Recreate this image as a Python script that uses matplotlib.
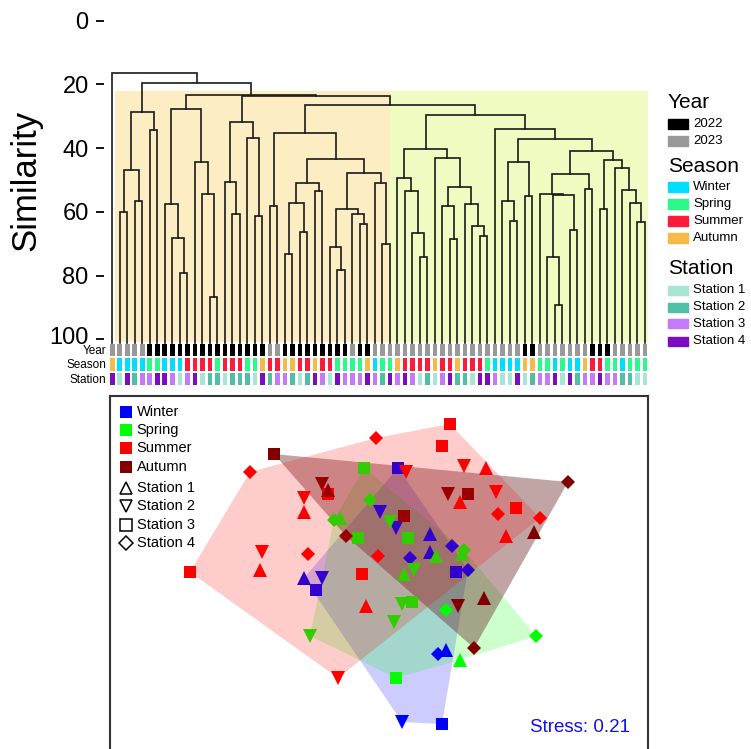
import numpy as np
import matplotlib.pyplot as plt
from matplotlib.patches import Rectangle, Polygon
from matplotlib.transforms import ScaledTranslation

plt.rcParams['font.family'] = ['Liberation Sans', 'DejaVu Sans']

W, H = 751, 749

# ---- cluster tree: (similarity, left, right), ints are leaf numbers ----
tree = (16.5, 1,
        (19.5,
         (28.6, (47.0, (60.1, 2, 3), (56.7, 4, 5)), (34.4, 6, 7)),
         (23.4,
          (27.6, (57.5, 8, (68.2, 9, (79.3, 10, 11))),
                 (44.2, 12, (54.3, 13, (86.7, 14, 15)))),
          (23.7,
           (31.8, (50.7, 16, (60.6, 17, 18)), (36.7, 19, (61.4, 20, 21))),
           (26.5,
            (35.2, (58.2, 22, 23),
             (43.5,
              (51.0, (57.3, (73.1, 24, 25), (66.2, 26, 27)), (53.5, 28, 29)),
              (47.7,
               (59.1, (71.1, 30, (78.3, 31, 32)), (60.8, 33, (63.7, 34, 35))),
               (51.0, 36, (70.1, 37, 38))))),
            (29.7,
             (40.2,
              (49.4, 39, (53.5, 40, (66.7, 41, (74.3, 42, 43)))),
              (43.1, 44, (52.1, (58.3, 45, (68.5, 46, 47)),
                          (57.5, 48, (64.5, 49, (67.5, 50, 51)))))),
             (33.9, 52,
              (37.0,
               (44.2, (56.7, 53, (63.0, 54, 55)), (55.1, 56, 57)),
               (40.9,
                (48.0,
                 (54.3, 58, (54.8, (74.3, 59, (89.2, 60, 61)), (65.7, 62, 63))),
                 (52.7, 64, 65)),
                (43.8, (59.2, 66, 67),
                 (46.2, 68, (53.2, 69, (57.3, 70, (63.3, 71, 72))))))))))))))

# leaf annotations in dendrogram order
year = [2023, 2023, 2023, 2023, 2023, 2022, 2022, 2022, 2022, 2022, 2022, 2022,
        2022, 2022, 2022, 2022, 2022, 2022, 2022, 2022, 2022, 2023, 2023, 2022,
        2022, 2022, 2022, 2022, 2022, 2022, 2022, 2022, 2023, 2022, 2022, 2023,
        2023, 2023, 2023, 2023, 2023, 2023, 2023, 2023, 2023, 2023, 2023, 2023,
        2023, 2023, 2023, 2023, 2023, 2023, 2023, 2022, 2022, 2023, 2023, 2023,
        2023, 2023, 2023, 2023, 2022, 2022, 2022, 2023, 2023, 2023, 2023, 2023]
season = ['Autumn', 'Winter', 'Winter', 'Winter', 'Winter', 'Spring', 'Spring', 'Winter',
          'Winter', 'Winter', 'Summer', 'Summer', 'Summer', 'Summer', 'Spring', 'Summer',
          'Summer', 'Summer', 'Spring', 'Spring', 'Autumn', 'Summer', 'Summer', 'Autumn',
          'Autumn', 'Summer', 'Summer', 'Autumn', 'Summer', 'Summer', 'Spring', 'Spring',
          'Spring', 'Spring', 'Autumn', 'Winter', 'Spring', 'Spring', 'Autumn', 'Summer',
          'Summer', 'Summer', 'Summer', 'Autumn', 'Summer', 'Summer', 'Autumn', 'Summer',
          'Summer', 'Summer', 'Spring', 'Winter', 'Winter', 'Winter', 'Winter', 'Autumn',
          'Autumn', 'Spring', 'Spring', 'Winter', 'Spring', 'Winter', 'Winter', 'Autumn',
          'Summer', 'Summer', 'Spring', 'Spring', 'Winter', 'Spring', 'Spring', 'Spring']
station = [4, 1, 4, 2, 3, 3, 4, 4, 3, 1, 3, 4, 1, 2, 2, 1, 2, 2, 2, 1, 4, 2, 3, 3,
           2, 1, 2, 4, 3, 1, 4, 3, 3, 3, 4, 3, 2, 4, 3, 4, 3, 1, 2, 1, 3, 4, 2, 2,
           1, 4, 4, 3, 1, 1, 4, 1, 2, 3, 3, 4, 1, 4, 2, 3, 3, 4, 3, 3, 2, 2, 1, 1]

year_col = {2022: '#000000', 2023: '#999999'}
season_col = {'Winter': '#00DDFF', 'Spring': '#2BF98C', 'Summer': '#FF1A3A', 'Autumn': '#F6BA48'}
station_col = {1: '#A9E5D6', 2: '#4FBFA6', 3: '#C57AFC', 4: '#7B0CC2'}

# ---- NMDS ordination ----
nmds_x = [0.09, 0.00, 0.08, 0.25, 0.25, 0.15, -0.38, -0.29, -0.32, 0.36, 0.38, 0.44, 0.29, 0.33, 0.31, 0.11,
          -0.08, -0.05, -0.23, -0.20, 0.05, -0.11, 0.14, 0.42, 0.41, 0.28, 0.12, 0.17, 0.11, 0.16, 0.07, -0.35,
          0.08, 0.33, 0.78, 0.40,
          -0.02, -0.65, 0.13, -0.26, -0.38, -0.38, -0.59, -0.60, -0.36, -0.01, -0.95, -0.09, -0.07, -0.21, 0.35,
          0.31, 0.42, 0.53, 0.40, 0.58, 0.68, 0.59, 0.80, 0.63,
          -0.53, -0.29, -0.26, 0.12, -0.17, 0.94, 0.34, 0.44, 0.77, 0.39, 0.52, 0.47]
nmds_y = [0.46, 0.24, 0.16, 0.13, 0.04, 0.01, -0.09, -0.09, -0.15, 0.07, -0.06, -0.05, -0.47, -0.45, -0.82, -0.81,
          0.46, 0.30, 0.20, 0.21, 0.19, 0.11, 0.11, 0.05, 0.03, 0.02, -0.07, -0.05, -0.22, -0.21, -0.31, -0.38,
          -0.59, -0.25, -0.38, -0.50,
          0.61, 0.44, 0.44, 0.33, 0.31, 0.24, 0.04, -0.05, 0.03, 0.02, -0.06, -0.07, -0.23, -0.59, 0.68,
          0.57, 0.47, 0.46, 0.29, 0.34, 0.26, 0.23, 0.21, 0.12,
          0.53, 0.38, 0.35, 0.22, 0.12, 0.39, 0.33, 0.33, 0.14, -0.23, -0.19, -0.44]
nmds_season = ['Winter'] * 16 + ['Spring'] * 20 + ['Summer'] * 24 + ['Autumn'] * 12
nmds_station = [3, 2, 2, 1, 1, 4, 1, 2, 3, 4, 3, 4, 4, 1, 3, 2,
                3, 4, 4, 1, 2, 3, 3, 4, 1, 1, 1, 2, 2, 3, 2, 2, 3, 4, 4, 1,
                4, 4, 2, 3, 2, 1, 2, 1, 4, 4, 3, 3, 1, 2, 3, 3, 2, 1, 1, 2, 3, 4, 4, 1,
                3, 2, 1, 3, 4, 4, 2, 3, 1, 2, 1, 4]
stress = 0.21

pt_col = {'Winter': '#0000FF', 'Spring': '#00FF00', 'Summer': '#FF0000', 'Autumn': '#800000'}
# (colour, alpha, drawn above the points?)
hull_col = {'Winter': ('#0000FF', 0.2, False), 'Spring': ('#00FF00', 0.2, False),
            'Autumn': ('#642020', 0.4, False), 'Summer': ('#FF0000', 0.2, True)}
markers = {1: ('^', 9.5), 2: ('v', 9.5), 3: ('s', 8.5), 4: ('D', 7.0)}


def rect(l, t, r, b):
    return [l / W, 1 - b / H, (r - l) / W, (b - t) / H]


fig = plt.figure(figsize=(W / 100, H / 100), dpi=100)

# ---------------- dendrogram ----------------
ax = fig.add_axes(rect(104, 20.8, 648, 339.3))
ax.set_xlim(-0.107, 72.4)
ax.set_ylim(100, 0)
for s in ax.spines.values():
    s.set_visible(False)
ax.set_xticks([])
ax.set_yticks([0, 20, 40, 60, 80, 100])
ax.tick_params(axis='y', length=5.5, width=1.3, pad=5.5, labelsize=17)
# nudge "100" up a little so it clears the row labels
lab100 = ax.get_yticklabels()[-1]
lab100.set_transform(lab100.get_transform() + ScaledTranslation(0, 2.5 / 72, fig.dpi_scale_trans))
ax.set_ylabel('Similarity', fontsize=25, labelpad=5)

ax.add_patch(Rectangle((1.4, 22), 38.0 - 1.4, 78.7, color='#FDEDC3', lw=0, clip_on=False, zorder=0))
ax.add_patch(Rectangle((38.0, 22), 72.4 - 38.0, 78.7, color='#EFFBC0', lw=0, clip_on=False, zorder=0))


def draw(node):
    if isinstance(node, int):
        return node, 101.2
    h, a, b = node
    xa, ya = draw(a)
    xb, yb = draw(b)
    ax.plot([xa, xa, xb, xb], [ya, h, h, yb], color='#1a1a1a', lw=1.2, clip_on=False,
            solid_joinstyle='miter')
    return (xa + xb) / 2, h


draw(tree)

# annotation rows
axa = fig.add_axes(rect(104, 342.5, 648, 386.3))
axa.set_xlim(-0.107, 72.4)
axa.set_ylim(3, 0)
axa.axis('off')
pos = np.arange(1, 73)
axa.bar(pos, 0.86, bottom=0.07, width=0.62, color=[year_col[v] for v in year])
axa.bar(pos, 0.86, bottom=1.07, width=0.62, color=[season_col[v] for v in season])
axa.bar(pos, 0.86, bottom=2.07, width=0.62, color=[station_col[v] for v in station])
for i, lab in enumerate(['Year', 'Season', 'Station']):
    fig.text(106 / W, 1 - (351 + i * 14.4) / H, lab, ha='right', va='center', fontsize=8.5)

# right legend
groups = [('Year', 103, ['2022', '2023'], [year_col[2022], year_col[2023]], 124),
          ('Season', 166, list(season_col), list(season_col.values()), 187),
          ('Station', 268, ['Station %d' % k for k in station_col], list(station_col.values()), 290)]
for title, ty, labs, cols, y0 in groups:
    fig.text(668 / W, 1 - ty / H, title, ha='left', va='center', fontsize=15)
    for j, (lab, c) in enumerate(zip(labs, cols)):
        yy = y0 + j * 17
        fig.patches.append(Rectangle((668 / W, 1 - (yy + 4.5) / H), 20 / W, 9 / H, color=c,
                                     transform=fig.transFigure, figure=fig))
        fig.text(693 / W, 1 - yy / H, lab, ha='left', va='center', fontsize=9.5)

# ---------------- NMDS ----------------
ax2 = fig.add_axes(rect(110, 396, 648, 752))
ax2.set_xlim(-1.35, 1.34)
ax2.set_ylim(-0.96, 0.82)
ax2.set_xticks([])
ax2.set_yticks([])
for s in ax2.spines.values():
    s.set_linewidth(1.5)
    s.set_color('#333333')

nx = np.array(nmds_x)
ny = np.array(nmds_y)
for i in range(len(nx)):
    m, ms = markers[nmds_station[i]]
    ax2.plot(nx[i], ny[i], marker=m, ms=ms, color=pt_col[nmds_season[i]], mew=0, ls='none', zorder=2)


def convex_hull(p):
    p = sorted(set(p))
    def cross(o, a, b):
        return (a[0] - o[0]) * (b[1] - o[1]) - (a[1] - o[1]) * (b[0] - o[0])
    lower, upper = [], []
    for q in p:
        while len(lower) >= 2 and cross(lower[-2], lower[-1], q) <= 0:
            lower.pop()
        lower.append(q)
    for q in reversed(p):
        while len(upper) >= 2 and cross(upper[-2], upper[-1], q) <= 0:
            upper.pop()
        upper.append(q)
    return lower[:-1] + upper[:-1]


for s in hull_col:
    pts = [(nx[i], ny[i]) for i in range(len(nx)) if nmds_season[i] == s]
    c, a, top = hull_col[s]
    ax2.add_patch(Polygon(convex_hull(pts), closed=True, facecolor=c, alpha=a, lw=0,
                          zorder=3 if top else 1))

# legend
for j, s in enumerate(pt_col):
    yy = 0.956 - j * 0.0514
    ax2.plot(0.029, yy, marker='s', ms=8, color=pt_col[s], mew=0, transform=ax2.transAxes, zorder=5)
    ax2.text(0.0496, yy, s, transform=ax2.transAxes, fontsize=10.5, va='center', zorder=5)
for j, k in enumerate(markers):
    yy = 0.742 - j * 0.0517
    m, ms = markers[k]
    ax2.plot(0.029, yy, marker=m, ms=ms * 0.95, mfc='none', mec='black', mew=1.1,
             transform=ax2.transAxes, zorder=5)
    ax2.text(0.0496, yy, 'Station %d' % k, transform=ax2.transAxes, fontsize=10.5, va='center', zorder=5)

ax2.text(0.9665, 0.070, 'Stress: %.2f' % stress, transform=ax2.transAxes, ha='right', va='center',
         fontsize=13.5, color='#1010F0', zorder=5)

fig.savefig('out.png', dpi=100)
